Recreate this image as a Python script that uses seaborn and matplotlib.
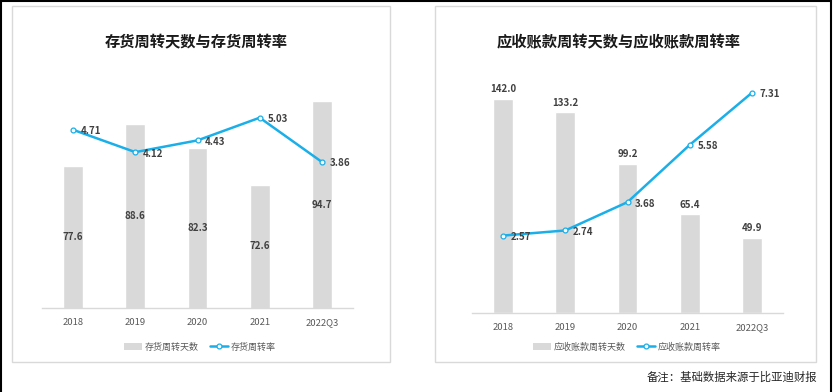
import matplotlib
matplotlib.use('Agg')
import matplotlib.pyplot as plt
import seaborn as sns
from matplotlib.patches import Patch, Rectangle
from matplotlib.lines import Line2D

years = ['2018', '2019', '2020', '2021', '2022Q3']

# 存货
inv_days = [77.6, 88.6, 82.3, 72.6, 94.7]
inv_rate = [4.71, 4.12, 4.43, 5.03, 3.86]

# 应收账款
ar_days = [142.0, 133.2, 99.2, 65.4, 49.9]
ar_rate = [2.57, 2.74, 3.68, 5.58, 7.31]

sns.set_theme(style='white')
plt.rcParams['font.family'] = ['Noto Sans CJK SC', 'DejaVu Sans']

BAR = '#D9D9D9'
BLUE = '#1AAFE8'
TXT = '#595959'
LAB = '#404040'

W, H = 834, 392
fig = plt.figure(figsize=(W / 100, H / 100), dpi=100)


def px_axes(x0, x1, ytop, ybot):
    return fig.add_axes([x0 / W, 1 - ybot / H, (x1 - x0) / W, (ybot - ytop) / H])


def draw_panel(ax, days, rate, ylim1, ylim2, inside):
    sns.barplot(x=years, y=days, color=BAR, width=0.32, ax=ax, saturation=1)
    ax.set_ylim(*ylim1)
    ax.set_xlim(-0.5, len(years) - 0.5)
    for i, v in enumerate(days):
        if inside:
            ax.text(i, (ylim1[0] + v) / 2, f'{v:.1f}', ha='center', va='center',
                    fontsize=7, fontweight='bold', color=LAB)
        else:
            ax.annotate(f'{v:.1f}', (i, v), xytext=(0, 3.5), textcoords='offset points',
                        ha='center', va='bottom', fontsize=7, fontweight='bold', color=LAB)
    ax2 = ax.twinx()
    sns.pointplot(x=years, y=rate, ax=ax2, color=BLUE, markers='o',
                  linewidth=1.8, markersize=3.5, markeredgewidth=0.9,
                  markerfacecolor='white', markeredgecolor=BLUE)
    ax2.set_ylim(*ylim2)
    ax2.set_xlim(-0.5, len(years) - 0.5)
    for i, v in enumerate(rate):
        ax2.annotate(f'{v:.2f}', (i, v), xytext=(5.5, -1), textcoords='offset points',
                     ha='left', va='center', fontsize=7, fontweight='bold', color=LAB)
    for a in (ax, ax2):
        for s in a.spines.values():
            s.set_visible(False)
        a.set_yticks([])
        a.set_ylabel('')
        a.set_xlabel('')
    ax.spines['bottom'].set_visible(True)
    ax.spines['bottom'].set_color(BAR)
    ax.spines['bottom'].set_linewidth(1)
    ax.tick_params(axis='x', length=0, pad=7, labelsize=6.8, labelcolor=TXT)
    ax2.tick_params(axis='x', length=0, labelbottom=False)
    ax.set_zorder(ax2.get_zorder() - 1)
    ax.patch.set_visible(False)
    ax2.patch.set_visible(False)


# panel frames
for x0, x1 in [(12, 390), (435, 816)]:
    fig.patches.append(Rectangle((x0 / W, 1 - 362 / H), (x1 - x0) / W, 356 / H,
                                 transform=fig.transFigure, fill=False,
                                 edgecolor='#D9D9D9', linewidth=1))

axL = px_axes(42, 353, 81, 308)
draw_panel(axL, inv_days, inv_rate, (40, 100), (0, 6), inside=True)

axR = px_axes(472, 783, 72, 313)
draw_panel(axR, ar_days, ar_rate, (0, 160), (0, 8), inside=False)

fig.text(196 / W, 1 - 42 / H, '存货周转天数与存货周转率', ha='center', va='center',
         fontsize=11, fontweight='bold', color='#1a1a1a')
fig.text(619 / W, 1 - 42 / H, '应收账款周转天数与应收账款周转率', ha='center', va='center',
         fontsize=11, fontweight='bold', color='#1a1a1a')

for cx, names in [(200, ('存货周转天数', '存货周转率')),
                  (627, ('应收账款周转天数', '应收账款周转率'))]:
    handles = [Patch(facecolor=BAR, edgecolor='none', label=names[0]),
               Line2D([], [], color=BLUE, lw=1.8, marker='o', markersize=3.5,
                      markerfacecolor='white', markeredgecolor=BLUE,
                      markeredgewidth=0.9, label=names[1])]
    fig.legend(handles=handles, loc='center', bbox_to_anchor=(cx / W, 1 - 347 / H),
               ncol=2, frameon=False, fontsize=6.5, labelcolor=TXT,
               handlelength=2.0, handletextpad=0.3, columnspacing=1.2)

fig.text(817 / W, 1 - 377 / H, '备注：基础数据来源于比亚迪财报', ha='right', va='center',
         fontsize=8.2, color='#262626')

# outer black frame
for xs, ys in [([0.8 / W, 0.8 / W], [0, 1]),
               ([0, 831 / W], [1 - 1 / H, 1 - 1 / H]),
               ([831 / W, 831 / W], [0, 1])]:
    fig.add_artist(Line2D(xs, ys, color='black', lw=1.5, transform=fig.transFigure))

fig.savefig('out.png', dpi=100)
